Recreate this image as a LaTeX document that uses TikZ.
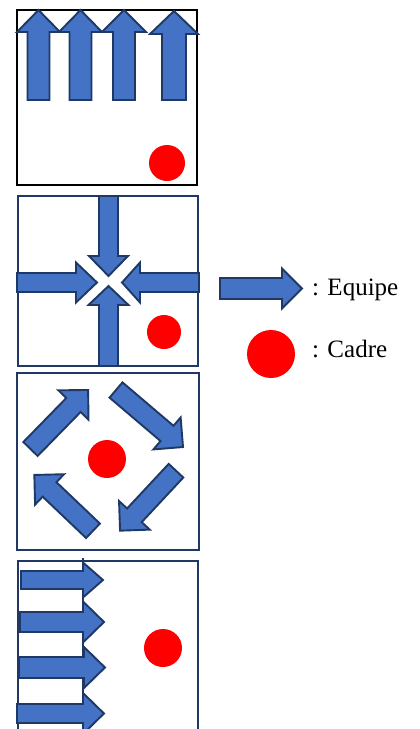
\documentclass[tikz,border=0pt]{standalone}
\usepackage{fontspec}
\setmainfont{Liberation Serif}
\definecolor{teamblue}{HTML}{4472C4}
\definecolor{navy}{HTML}{1F3864}
\definecolor{cadrered}{HTML}{FF0000}
\tikzset{
  arrowstyle/.style={draw=navy, fill=teamblue, line width=1.9pt, line join=miter},
  panel/.style={draw=navy, line width=2pt},
  cadre/.style={fill=cadrered, draw=none},
  legendtext/.style={font=\fontsize{25}{30}\selectfont, inner sep=0pt, anchor=base west},
  % block arrow along +x: length / shaft half-width / head half-width / head length
  pics/blockarrow/.style args={#1/#2/#3/#4}{code={
    \draw[arrowstyle] (0,-#2) -- (#1-#4,-#2) -- (#1-#4,-#3) -- (#1,0)
      -- (#1-#4,#3) -- (#1-#4,#2) -- (0,#2) -- cycle;
  }}
}
\begin{document}
\begin{tikzpicture}[x=1pt,y=-1pt]
\useasboundingbox (0,0) rectangle (420,729);
\clip (0,0) rectangle (420,729);

% --- panel 1: everybody moves forward
\draw[line width=2pt, draw=black] (17,10) rectangle (197,185);
\pic[rotate=90] at (38.5,100) {blockarrow=90/11/21.5/22};
\pic[rotate=90] at (80.5,100) {blockarrow=90/11/21.5/22};
\pic[rotate=90] at (124,100) {blockarrow=90/11/22/22};
\pic[rotate=90] at (174,100) {blockarrow=89/12/24/23};
\fill[cadre] (167,163) circle (18);

% --- panel 2: converging on the centre
\draw[panel] (18,196) rectangle (198,366);
\pic[rotate=-90] at (108.5,196) {blockarrow=80/9.5/19.5/20};
\pic[rotate=0] at (17,282.5) {blockarrow=80/9.5/20/21};
\pic[rotate=180] at (199,282.5) {blockarrow=77/9.5/20/18};
\pic[rotate=90] at (108.5,366) {blockarrow=80/9.5/20/19};
\fill[cadre] (164,332) circle (17);

% --- panel 3: rotating around the cadre
\draw[panel] (17,373) rectangle (199,550);
\pic[rotate=45.7] at (30.5,449) {blockarrow=82.5/10/21/21};
\pic[rotate=-40.4] at (116,390) {blockarrow=88/10/21/21};
\pic[rotate=227] at (176,470.7) {blockarrow=82/10/21/21};
\pic[rotate=136.4] at (93,530.8) {blockarrow=81/10/21/21};
\fill[cadre] (107,459) circle (19);

% --- panel 4: rows moving to the right
\draw[panel] (18,561) rectangle (198,745);
\draw[panel, fill=white, line width=1.9pt] (18,561) rectangle (83,745);
\draw[panel, line width=1.9pt] (83,558) -- (83,561);
\pic[rotate=0] at (21,580) {blockarrow=82/9/17.5/20};
\pic[rotate=0] at (20,622) {blockarrow=84/10/20.5/21};
\pic[rotate=0] at (19,667.5) {blockarrow=86/10.5/20.5/21};
\pic[rotate=0] at (17,713.5) {blockarrow=87/9.5/20.5/21};
\fill[cadre] (163,648) circle (19);

% --- legend
\pic[rotate=0] at (220,288.5) {blockarrow=82/10.5/20/20};
\node[legendtext] (equipe) at (312,295) {: Equipe};
\fill[cadre] (271,354) circle (24);
\node[legendtext] (cadre) at (312,357) {: Cadre};
\end{tikzpicture}
\end{document}
